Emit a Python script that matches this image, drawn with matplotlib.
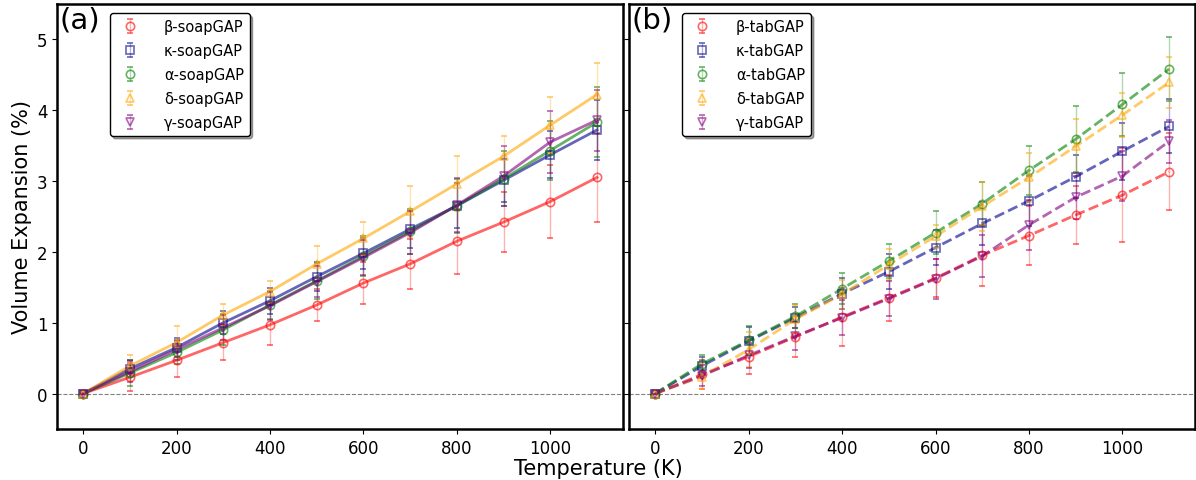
import numpy as np
import matplotlib
matplotlib.use("Agg")
import matplotlib.pyplot as plt

# temperatures (K)
T = [0, 100, 200, 300, 400, 500, 600, 700, 800, 900, 1000, 1100]

phases = ["β", "κ", "α", "δ", "γ"]
colors = ["red", "darkblue", "green", "orange", "purple"]
markers = ["o", "s", "o", "^", "v"]

# (a) soapGAP volume expansion (%)
soap_beta = [0, 0.23, 0.47, 0.72, 0.97, 1.25, 1.56, 1.83, 2.15, 2.42, 2.71, 3.05]
soap_kappa = [0, 0.35, 0.65, 1.00, 1.31, 1.65, 1.98, 2.32, 2.65, 3.01, 3.37, 3.72]
soap_alpha = [0, 0.29, 0.58, 0.90, 1.25, 1.59, 1.94, 2.29, 2.65, 3.03, 3.43, 3.83]
soap_delta = [0, 0.39, 0.72, 1.11, 1.44, 1.83, 2.19, 2.57, 2.96, 3.35, 3.79, 4.22]
soap_gamma = [0, 0.31, 0.62, 0.93, 1.24, 1.58, 1.92, 2.27, 2.66, 3.07, 3.55, 3.86]

soap_beta_err = [0, 0.20, 0.24, 0.25, 0.29, 0.23, 0.29, 0.35, 0.46, 0.42, 0.51, 0.63]
soap_kappa_err = [0, 0.12, 0.13, 0.16, 0.18, 0.20, 0.22, 0.26, 0.32, 0.30, 0.33, 0.42]
soap_alpha_err = [0, 0.18, 0.16, 0.22, 0.20, 0.25, 0.28, 0.32, 0.38, 0.39, 0.41, 0.49]
soap_delta_err = [0, 0.16, 0.24, 0.16, 0.15, 0.25, 0.23, 0.36, 0.39, 0.28, 0.40, 0.44]
soap_gamma_err = [0, 0.15, 0.14, 0.18, 0.20, 0.22, 0.25, 0.30, 0.38, 0.43, 0.44, 0.43]

# (b) tabGAP volume expansion (%)
tab_beta = [0, 0.27, 0.52, 0.80, 1.08, 1.35, 1.63, 1.95, 2.23, 2.52, 2.80, 3.13]
tab_kappa = [0, 0.39, 0.74, 1.07, 1.41, 1.72, 2.06, 2.40, 2.72, 3.06, 3.42, 3.77]
tab_alpha = [0, 0.42, 0.75, 1.09, 1.48, 1.87, 2.27, 2.68, 3.15, 3.59, 4.08, 4.58]
tab_delta = [0, 0.24, 0.62, 1.05, 1.40, 1.82, 2.22, 2.64, 3.05, 3.49, 3.93, 4.39]
tab_gamma = [0, 0.25, 0.54, 0.81, 1.07, 1.34, 1.62, 1.94, 2.38, 2.77, 3.07, 3.56]

tab_beta_err = [0, 0.20, 0.25, 0.29, 0.41, 0.33, 0.27, 0.43, 0.42, 0.41, 0.66, 0.54]
tab_kappa_err = [0, 0.12, 0.20, 0.15, 0.22, 0.25, 0.25, 0.30, 0.35, 0.30, 0.40, 0.38]
tab_alpha_err = [0, 0.12, 0.20, 0.17, 0.22, 0.24, 0.30, 0.31, 0.35, 0.47, 0.44, 0.45]
tab_delta_err = [0, 0.18, 0.25, 0.20, 0.20, 0.22, 0.16, 0.35, 0.34, 0.38, 0.31, 0.36]
tab_gamma_err = [0, 0.15, 0.18, 0.20, 0.25, 0.25, 0.28, 0.30, 0.35, 0.30, 0.35, 0.30]

soap = [soap_beta, soap_kappa, soap_alpha, soap_delta, soap_gamma]
soap_err = [soap_beta_err, soap_kappa_err, soap_alpha_err, soap_delta_err, soap_gamma_err]
tab = [tab_beta, tab_kappa, tab_alpha, tab_delta, tab_gamma]
tab_err = [tab_beta_err, tab_kappa_err, tab_alpha_err, tab_delta_err, tab_gamma_err]

fig, axes = plt.subplots(1, 2, figsize=(11.96, 4.81), dpi=100, sharey=True)
fig.subplots_adjust(left=0.048, right=0.999, top=0.99, bottom=0.106, wspace=0.012)


def draw(ax, data, errs, name, ls, tag):
    ax.axhline(0, color="grey", ls="--", lw=0.8, zorder=0)
    for i in range(len(phases)):
        ax.plot(T, data[i], ls=ls, color=colors[i], lw=2, alpha=0.6)
        cont = ax.errorbar(T, data[i], yerr=errs[i], fmt=markers[i], mfc="none",
                           mec=colors[i], color=colors[i], ms=6, mew=1.2,
                           capsize=2, elinewidth=1, alpha=0.6,
                           label=phases[i] + "-" + name)
        for b in cont[2]:
            b.set_alpha(0.3)
    ax.set_xlim(-55, 1155)
    ax.set_ylim(-0.5, 5.5)
    ax.set_xticks([0, 200, 400, 600, 800, 1000])
    ax.set_yticks([0, 1, 2, 3, 4, 5])
    ax.tick_params(labelsize=12)
    for s in ax.spines.values():
        s.set_linewidth(1.8)
    ax.text(0.004, 0.997, tag, transform=ax.transAxes, fontsize=21, va="top", ha="left")
    leg = ax.legend(loc="upper left", bbox_to_anchor=(0.093, 0.978), fontsize=10.5,
                    shadow=True, framealpha=1, edgecolor="black", borderaxespad=0,
                    handletextpad=1.3, labelspacing=0.62)
    leg.get_frame().set_linewidth(1.0)


draw(axes[0], soap, soap_err, "soapGAP", "-", "(a)")
draw(axes[1], tab, tab_err, "tabGAP", "--", "(b)")

axes[0].set_ylabel("Volume Expansion (%)", fontsize=15)
fig.text(0.5, 0.004, "Temperature (K)", ha="center", va="bottom", fontsize=15)

fig.savefig("out.png", dpi=100)
